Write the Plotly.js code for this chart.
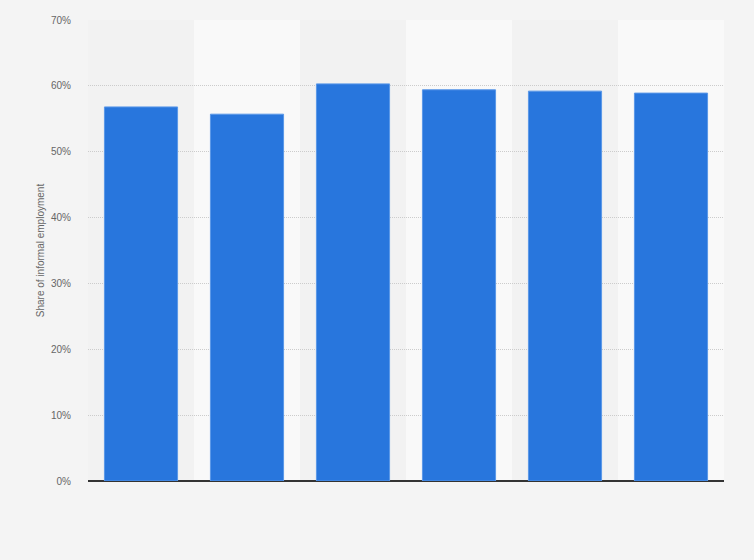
<!DOCTYPE html>
<html>
<head>
<meta charset="utf-8">
<script src="https://cdn.plot.ly/plotly-3.0.1.min.js"></script>
<style>html,body{margin:0;padding:0;background:#f4f4f4;}</style>
</head>
<body>
<div id="chart" style="width:754px;height:560px;"></div>
<script>
var categories = ["2013", "2014", "2015", "2016", "2017", "2018"];
var shareValues = [56.8, 55.7, 60.3, 59.4, 59.2, 58.9];
var yTickValues = [0, 10, 20, 30, 40, 50, 60, 70];
var yTickLabels = ["0%", "10%", "20%", "30%", "40%", "50%", "60%", "70%"];

var bandShapes = categories.map(function (c, i) {
  return {
    type: "rect", xref: "x", yref: "paper",
    x0: i - 0.5, x1: i + 0.5, y0: 0, y1: 1,
    fillcolor: i % 2 === 0 ? "#f2f2f2" : "#f9f9f9",
    line: {width: 0}, layer: "below"
  };
});

var trace = {
  type: "bar",
  x: categories.map(function (c, i) { return i; }),
  y: shareValues,
  width: 0.69,
  marker: {color: "#2876dd", line: {color: "#5a98e8", width: 1}},
  hoverinfo: "y"
};

var layout = {
  width: 754, height: 560,
  margin: {l: 88, r: 30, t: 20, b: 79},
  paper_bgcolor: "#f4f4f4",
  plot_bgcolor: "#f2f2f2",
  showlegend: false,
  shapes: bandShapes,
  xaxis: {
    range: [-0.5, categories.length - 0.5],
    showticklabels: false, showgrid: false, zeroline: false,
    ticks: "", showline: false, fixedrange: true
  },
  yaxis: {
    range: [0, 70],
    tickvals: yTickValues, ticktext: yTickLabels,
    tickfont: {family: "Arial, Liberation Sans, sans-serif", size: 10, color: "#666666"},
    showgrid: true, gridcolor: "#cccccc", griddash: "1px,1px", gridwidth: 1,
    zeroline: true, zerolinecolor: "#333333", zerolinewidth: 1.5,
    ticks: "outside", ticklen: 14, tickcolor: "rgba(0,0,0,0)", showline: false,
    title: {text: "Share of informal employment", standoff: 4,
            font: {family: "Arial, Liberation Sans, sans-serif", size: 10, color: "#666666"}},
    automargin: false, fixedrange: true
  }
};

Plotly.newPlot("chart", [trace], layout, {displayModeBar: false, staticPlot: true});
</script>
</body>
</html>
